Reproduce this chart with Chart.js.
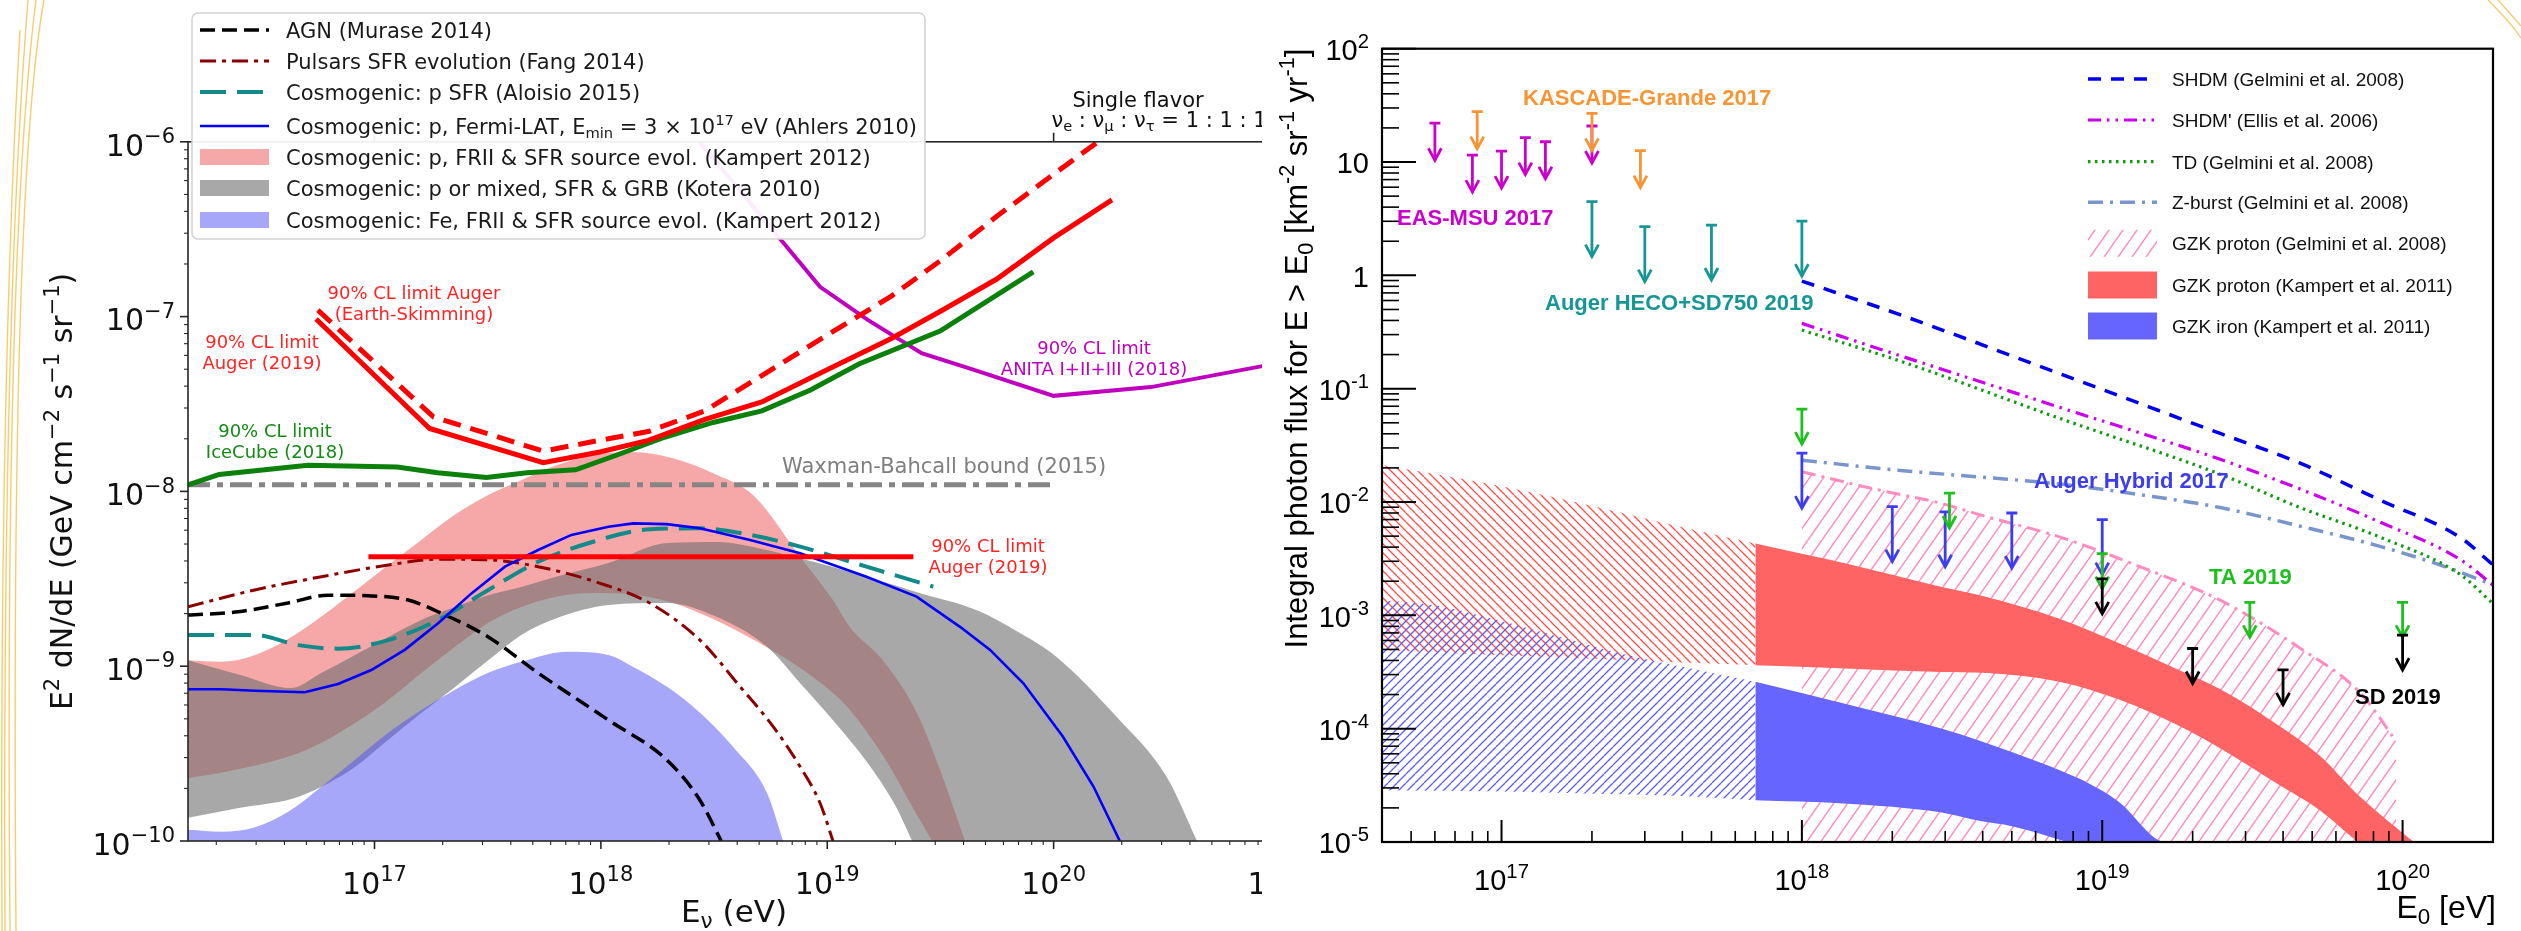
<!DOCTYPE html>
<html>
<head>
<meta charset="utf-8">
<title>Neutrino and photon flux limits</title>
<script src="https://cdn.jsdelivr.net/npm/chart.js@4.4.1/dist/chart.umd.min.js"></script>
<style>
  html, body { margin: 0; padding: 0; background: #fff; }
  body { width: 2521px; height: 931px; position: relative; overflow: hidden; }
  #leftBox { position: absolute; left: 0; top: 0; width: 1262px; height: 931px; overflow: hidden; }
  #rightBox { position: absolute; left: 1262px; top: 0; width: 1259px; height: 931px; }
  canvas { display: block; }
  #deco { position: absolute; left: 0; top: 0; pointer-events: none; }
</style>
</head>
<body>
<div id="leftBox"><canvas id="leftChart" width="1340" height="931"></canvas></div>
<div id="rightBox"><canvas id="rightChart" width="1259" height="931"></canvas></div>
<svg id="deco" width="2521" height="931">
  <g fill="none" stroke="#f5c456" stroke-width="1.4" opacity="0.85">
    <path d="M44 0 C 22 120, 12 420, 16 931"/>
    <path d="M36 0 C 16 160, 6 460, 10 931"/>
    <path d="M28 0 C 12 200, 3 500, 5 931"/>
    <path d="M20 30 C 8 240, 0 540, 2 931"/>
    <path d="M2488 0 C 2500 12, 2512 24, 2521 38"/>
    <path d="M2498 0 C 2507 10, 2514 18, 2521 26"/>
  </g>
</svg>
<script>
// ---------- left panel: neutrino fluxes ----------
const leftXRange = [1.5e16, 1e21];
const leftYRange = [1e-10, 1e-6];
const leftXTicks = [1e17, 1e18, 1e19, 1e20, 1e21];
const leftXTickLabels = ['10^{17}', '10^{18}', '10^{19}', '10^{20}', '10^{21}'];
const leftYTicks = [1e-10, 1e-9, 1e-8, 1e-7, 1e-6];
const leftYTickLabels = ['10^{\u221210}', '10^{\u22129}', '10^{\u22128}', '10^{\u22127}', '10^{\u22126}'];

const agnE = [1.5e16, 2.5e16, 4.15e16, 6.24e16, 9.37e16, 1.41e17, 1.97e17, 3.18e17, 5.28e17, 1.08e18, 1.96e18, 2.74e18, 3.4e18];
const agnFlux = [1.96e-9, 2.05e-9, 2.30e-9, 2.55e-9, 2.53e-9, 2.39e-9, 2.01e-9, 1.47e-9, 9.14e-10, 4.92e-10, 2.90e-10, 1.71e-10, 1.0e-10];

const pulsarE = [1.5e16, 2.96e16, 5.82e16, 1.15e17, 1.91e17, 3.18e17, 5.28e17, 9.93e17, 1.65e18, 2.74e18, 4.12e18, 5.77e18, 7.59e18, 9.29e18, 1.06e19];
const pulsarFlux = [2.19e-9, 2.73e-9, 3.25e-9, 3.79e-9, 4.09e-9, 4.06e-9, 3.71e-9, 2.98e-9, 2.29e-9, 1.41e-9, 7.64e-10, 4.51e-10, 2.66e-10, 1.65e-10, 1.0e-10];

const aloisioE = [1.5e16, 2.96e16, 4.6e16, 6.9e16, 1.15e17, 1.91e17, 3.18e17, 5.28e17, 8.79e17, 1.65e18, 2.74e18, 4.56e18, 7.59e18, 1.49e19, 2.94e19];
const aloisioFlux = [1.51e-9, 1.51e-9, 1.32e-9, 1.26e-9, 1.41e-9, 1.84e-9, 2.73e-9, 3.96e-9, 5.05e-9, 6.07e-9, 6.15e-9, 5.64e-9, 4.83e-9, 3.71e-9, 2.85e-9];

const ahlersE = [1.5e16, 2.11e16, 2.96e16, 4.92e16, 6.9e16, 9.68e16, 1.36e17, 1.91e17, 2.68e17, 3.77e17, 5.28e17, 7.41e17, 1.08e18, 1.39e18, 1.95e18, 2.74e18, 4.56e18, 7.59e18, 1.49e19, 2.48e19, 3.86e19, 5.24e19, 7.35e19, 1.1e20, 1.5e20, 1.96e20];
const ahlersFlux = [7.38e-10, 7.38e-10, 7.24e-10, 7.10e-10, 7.91e-10, 9.51e-10, 1.24e-9, 1.76e-9, 2.61e-9, 3.71e-9, 4.62e-9, 5.64e-9, 6.28e-9, 6.56e-9, 6.50e-9, 6.15e-9, 5.27e-9, 4.43e-9, 3.25e-9, 2.50e-9, 1.68e-9, 1.24e-9, 7.98e-10, 3.95e-10, 2.05e-10, 1.0e-10];

const augerE = [5.52e16, 1.75e17, 5.56e17, 9.89e17, 1.62e18, 2.88e18, 5.14e18, 9.93e18, 1.92e19, 3.15e19, 5.61e19, 1e20, 1.81e20];
const augerFlux = [9.68e-8, 2.29e-8, 1.46e-8, 1.68e-8, 1.96e-8, 2.58e-8, 3.25e-8, 4.95e-8, 7.5e-8, 1.07e-7, 1.64e-7, 2.82e-7, 4.65e-7];
const esE = [5.62e16, 1.82e17, 5.56e17, 9.89e17, 1.62e18, 2.88e18, 5.14e18, 9.93e18, 1.92e19, 3.15e19, 5.61e19, 1e20, 1.57e20];
const esFlux = [1.09e-7, 2.67e-8, 1.70e-8, 1.96e-8, 2.20e-8, 2.89e-8, 4.6e-8, 7.8e-8, 1.31e-7, 2.08e-7, 3.75e-7, 6.52e-7, 1e-6];
const augerFlatE = [9.4e16, 2.4e19];
const augerFlatFlux = [4.23e-9, 4.23e-9];

const iceE = [1.5e16, 2.06e16, 5.08e16, 1.26e17, 1.90e17, 3.12e17, 4.71e17, 7.73e17, 1.17e18, 1.91e18, 3.13e18, 5.14e18, 8.43e18, 1.38e19, 3.15e19, 8.13e19];
const iceFlux = [1.09e-8, 1.25e-8, 1.41e-8, 1.38e-8, 1.28e-8, 1.20e-8, 1.28e-8, 1.33e-8, 1.61e-8, 2.04e-8, 2.48e-8, 2.89e-8, 3.80e-8, 5.36e-8, 8.26e-8, 1.80e-7];

const anitaE = [2.72e18, 6.25e18, 9.29e18, 1.51e19, 2.61e19, 4.38e19, 1e20, 2.69e20, 8.24e20, 1.1e21];
const anitaFlux = [1e-6, 2.74e-7, 1.48e-7, 9.57e-8, 6.17e-8, 4.99e-8, 3.52e-8, 3.95e-8, 5.19e-8, 5.63e-8];

const wbE = [1.5e16, 1e20];
const wbFlux = [1.09e-8, 1.09e-8];

const kampE = [1.5e16, 2.1e16, 2.97e16, 4.15e16, 5.81e16, 8.2e16, 1.15e17, 1.61e17, 2.27e17, 3.18e17, 4.45e17, 6.28e17, 9.14e17, 1.37e18, 2.08e18, 3.13e18, 4.75e18, 7.59e18, 1.06e19, 1.26e19, 1.76e19, 2.49e19, 3.15e19, 4.06e19];
const kampUpper = [1.08e-9, 1.06e-9, 1.16e-9, 1.43e-9, 1.92e-9, 2.69e-9, 3.79e-9, 5.28e-9, 7.37e-9, 9.53e-9, 1.16e-8, 1.40e-8, 1.61e-8, 1.68e-8, 1.55e-8, 1.27e-8, 9.41e-9, 4.22e-9, 2.39e-9, 1.67e-9, 1.08e-9, 5.40e-10, 2.55e-10, 1.0e-10];
const kampLower = [2.29e-10, 2.46e-10, 2.70e-10, 3.03e-10, 3.64e-10, 4.73e-10, 6.41e-10, 9.14e-10, 1.29e-9, 1.77e-9, 2.18e-9, 2.49e-9, 2.62e-9, 2.57e-9, 2.30e-9, 1.86e-9, 1.41e-9, 9.77e-10, 7.03e-10, 5.62e-10, 3.09e-10, 1.41e-10, 8.36e-11, 4.79e-11];

const kotE = [1.5e16, 2.55e16, 4.29e16, 5.81e16, 8.2e16, 1.15e17, 1.61e17, 2.27e17, 3.18e17, 4.45e17, 6.28e17, 1.08e18, 1.96e18, 3.26e18, 5.42e18, 7.59e18, 1.06e19, 1.5e19, 1.99e19, 2.49e19, 4.58e19, 7.1e19, 1.03e20, 1.9e20, 3.16e20, 4.3e20];
const kotUpper = [1.08e-9, 8.91e-10, 7.50e-10, 9.14e-10, 1.16e-9, 1.47e-9, 1.84e-9, 2.18e-9, 2.55e-9, 2.84e-9, 3.24e-9, 3.89e-9, 5.07e-9, 5.14e-9, 4.62e-9, 4.13e-9, 3.70e-9, 3.24e-9, 2.90e-9, 2.65e-9, 2.09e-9, 1.55e-9, 1.13e-9, 5.12e-10, 2.32e-10, 1.0e-10];
const kotLower = [1.36e-10, 1.55e-10, 1.74e-10, 2.04e-10, 2.65e-10, 3.79e-10, 5.40e-10, 7.60e-10, 1.08e-9, 1.51e-9, 1.87e-9, 2.24e-9, 2.30e-9, 1.91e-9, 1.29e-9, 8.00e-10, 4.91e-10, 2.82e-10, 1.61e-10, 8.9e-11, 3.0e-11, 2.0e-11, 1.5e-11, 1.0e-11, 8e-12, 6e-12];

const feE = [1.5e16, 2.1e16, 2.97e16, 4.16e16, 5.81e16, 8.2e16, 1.15e17, 1.61e17, 2.27e17, 3.18e17, 4.45e17, 7.1e17, 1.08e18, 1.39e18, 1.96e18, 2.74e18, 3.84e18, 5.42e18, 6.38e18];
const feFlux = [1.16e-10, 1.13e-10, 1.20e-10, 1.47e-10, 2.04e-10, 2.92e-10, 4.16e-10, 5.62e-10, 7.33e-10, 9.16e-10, 1.06e-9, 1.21e-9, 1.16e-9, 9.91e-10, 7.62e-10, 5.41e-10, 3.45e-10, 1.88e-10, 1.0e-10];

const leftLegendKeys = ['agn', 'pulsar', 'aloisio', 'ahlers', 'kampert', 'kotera', 'fe'];
const leftLegendLabels = [
  'AGN (Murase 2014)',
  'Pulsars SFR evolution (Fang 2014)',
  'Cosmogenic: p SFR (Aloisio 2015)',
  'Cosmogenic: p, Fermi-LAT, E_{min} = 3 \u00d7 10^{17} eV (Ahlers 2010)',
  'Cosmogenic: p, FRII & SFR source evol. (Kampert 2012)',
  'Cosmogenic: p or mixed, SFR & GRB (Kotera 2010)',
  'Cosmogenic: Fe, FRII & SFR source evol. (Kampert 2012)'
];

// ---------- right panel: photon fluxes ----------
const rightXRange = [4e16, 2e20];
const rightYRange = [1e-5, 100];
const rightXTicks = [1e17, 1e18, 1e19, 1e20];
const rightXTickLabels = ['10^{17}', '10^{18}', '10^{19}', '10^{20}'];
const rightYTicks = [1e-5, 1e-4, 1e-3, 1e-2, 1e-1, 1, 10, 100];
const rightYTickLabels = ['10^{-5}', '10^{-4}', '10^{-3}', '10^{-2}', '10^{-1}', '1', '10', '10^{2}'];

const easMsuE = [6.0e16, 8.0e16, 1.0e17, 1.2e17, 1.4e17, 2.0e17];
const easMsuLim = [22, 11.5, 12.5, 16.4, 15.1, 20.8];
const kascadeE = [8.3e16, 2.0e17, 2.9e17];
const kascadeLim = [27.8, 26.9, 12.6];
const hecoE = [2.0e17, 3.0e17, 5.0e17, 1.0e18];
const hecoLim = [4.47, 2.69, 2.78, 3.01];
const hybridE = [1e18, 2e18, 3e18, 5e18, 1e19];
const hybridLim = [2.7e-2, 9.1e-3, 8.2e-3, 8.0e-3, 7.0e-3];
const taE = [1e18, 3.1e18, 1e19, 3.1e19, 1e20];
const taLim = [6.6e-2, 1.2e-2, 3.5e-3, 1.3e-3, 1.3e-3];
const sdE = [1e19, 2e19, 4e19, 1e20];
const sdLim = [2.1e-3, 5.1e-4, 3.3e-4, 6.7e-4];

const shdmE = [1e18, 2.13e18, 7.25e18, 2.47e19, 4.56e19, 8.41e19, 1.55e20, 2e20];
const shdmFlux = [0.891, 0.448, 0.135, 4.03e-2, 2.20e-2, 1.04e-2, 4.90e-3, 2.79e-3];
const shdm2Flux = [0.377, 0.195, 6.82e-2, 2.38e-2, 1.30e-2, 6.65e-3, 3.13e-3, 1.85e-3];
const tdFlux = [0.329, 0.175, 5.45e-2, 1.76e-2, 8.93e-3, 4.90e-3, 2.31e-3, 1.27e-3];
const zburstE = [1e18, 2.13e18, 3.93e18, 7.25e18, 1.34e19, 2.47e19, 4.56e19, 8.41e19, 1.33e20, 1.99e20];
const zburstFlux = [2.34e-2, 1.90e-2, 1.66e-2, 1.44e-2, 1.16e-2, 8.93e-3, 6.12e-3, 4.06e-3, 2.79e-3, 1.87e-3];

const gelE = [1e18, 1.82e18, 2.89e18, 3.93e18, 7.25e18, 1.34e19, 2.47e19, 4.56e19, 7.23e19, 9.51e19];
const gelFlux = [1.85e-2, 1.27e-2, 9.78e-3, 7.69e-3, 4.90e-3, 2.68e-3, 1.36e-3, 5.13e-4, 2.07e-4, 7.80e-5];

const kpE = [7e17, 1.4e18, 2.9e18, 4e18, 7.2e18, 1.15e19, 1.8e19, 2.5e19, 3.9e19, 5.3e19, 7.2e19, 1.11e20];
const kpUpper = [4.31e-3, 2.87e-3, 1.79e-3, 1.48e-3, 9.35e-4, 5.62e-4, 3.29e-4, 2.19e-4, 1.05e-4, 5.77e-5, 2.52e-5, 9.6e-6];
const kpLower = [3.63e-4, 3.40e-4, 3.17e-4, 3.12e-4, 2.60e-4, 1.79e-4, 1.06e-4, 6.59e-5, 3.17e-5, 1.91e-5, 9.75e-6, 4.59e-6];
const kfeE = [7e17, 1.38e18, 2.89e18, 3.93e18, 5e18, 7.25e18, 9e18, 1.15e19, 1.5e19, 1.6e19];
const kfeUpper = [2.59e-4, 1.67e-4, 1.01e-4, 7.80e-5, 6.21e-5, 4.27e-5, 3.30e-5, 2.20e-5, 1.08e-5, 1.0e-5];
const kfeLower = [2.34e-5, 2.19e-5, 1.83e-5, 1.53e-5, 1.38e-5, 1.04e-5, 8.47e-6, 5.64e-6, 3.76e-6, 3.06e-6];

const hatchE = [4e16, 6e16, 1e17, 1.5e17, 2.5e17, 4e17, 7e17];
const kpHatchUpper = [2.12e-2, 1.77e-2, 1.38e-2, 1.10e-2, 8.03e-3, 6.00e-3, 4.31e-3];
const kpHatchLower = [4.93e-4, 4.73e-4, 4.45e-4, 4.28e-4, 4.03e-4, 3.83e-4, 3.63e-4];
const kfeHatchUpper = [1.36e-3, 1.23e-3, 8.93e-4, 6.65e-4, 4.61e-4, 3.51e-4, 2.59e-4];
const kfeHatchLower = [2.86e-5, 2.84e-5, 2.79e-5, 2.72e-5, 2.64e-5, 2.54e-5, 2.34e-5];

const rightLegendKeys = ['shdm', 'shdm2', 'td', 'zburst', 'gel', 'kp', 'kfe'];
const rightLegendLabels = [
  'SHDM (Gelmini et al. 2008)',
  "SHDM' (Ellis et al. 2006)",
  'TD (Gelmini et al. 2008)',
  'Z-burst (Gelmini et al. 2008)',
  'GZK proton (Gelmini et al. 2008)',
  'GZK proton (Kampert et al. 2011)',
  'GZK iron (Kampert et al. 2011)'
];

// ---------- helpers ----------
const L_FONT = "'DejaVu Sans', sans-serif";
const R_FONT = "'Liberation Sans', Arial, sans-serif";

const pts = (xs, ys) => xs.map((x, i) => ({x, y: ys[i]}));
const smooth = {cubicInterpolationMode: 'monotone'};

function line(key, data, color, width, dash, extra) {
  return Object.assign({key, data, borderColor: color, borderWidth: width, borderDash: dash || [],
    pointRadius: 0, fill: false, tension: 0}, extra || {});
}
function area(key, data, bg, fill) {
  return {key, data, borderColor: 'rgba(0,0,0,0)', borderWidth: 1, backgroundColor: bg, fill,
    pointRadius: 0, cubicInterpolationMode: 'monotone'};
}
function edge(data) {
  return {data, borderColor: 'rgba(0,0,0,0)', borderWidth: 1, fill: false, pointRadius: 0,
    cubicInterpolationMode: 'monotone'};
}
function arrows(data, color, length) {
  return {data, showLine: false, pointRadius: 0, borderColor: color, arrow: {color, length}};
}

function hatch(color, w, h, lw, dir) {
  const c = document.createElement('canvas');
  c.width = w; c.height = h;
  const g = c.getContext('2d');
  g.strokeStyle = color; g.lineWidth = lw;
  g.beginPath();
  [-1, 0, 1].forEach(k => {
    if (dir === '/') { g.moveTo(k * w, h); g.lineTo(k * w + w, 0); }
    else { g.moveTo(k * w, 0); g.lineTo(k * w + w, h); }
  });
  g.stroke();
  return g.createPattern(c, 'repeat');
}

function parseRich(str) {
  const out = [];
  let buf = '', i = 0;
  while (i < str.length) {
    const c = str[i];
    if ((c === '^' || c === '_') && str[i + 1] === '{') {
      if (buf) { out.push({t: buf, m: 0}); buf = ''; }
      const j = str.indexOf('}', i + 2);
      out.push({t: str.slice(i + 2, j), m: c === '^' ? 1 : -1});
      i = j + 1;
    } else { buf += c; i++; }
  }
  if (buf) out.push({t: buf, m: 0});
  return out;
}

// y is the vertical middle of the main text
function drawRich(ctx, str, x, y, o) {
  const segs = parseRich(str);
  const size = o.size, small = size * 0.7;
  const font = s => (o.weight || 'normal') + ' ' + s + 'px ' + o.family;
  let total = 0;
  segs.forEach(s => { ctx.font = font(s.m ? small : size); s.w = ctx.measureText(s.t).width; total += s.w; });
  ctx.save();
  ctx.translate(x, y);
  if (o.rot) ctx.rotate(o.rot);
  ctx.fillStyle = o.color || '#000';
  ctx.textAlign = 'left';
  ctx.textBaseline = 'alphabetic';
  let cx = o.align === 'right' ? -total : o.align === 'center' ? -total / 2 : 0;
  const base = size * 0.36;
  segs.forEach(s => {
    ctx.font = font(s.m ? small : size);
    const dy = s.m > 0 ? -size * 0.42 : s.m < 0 ? size * 0.2 : 0;
    ctx.fillText(s.t, cx, base + dy);
    cx += s.w;
  });
  ctx.restore();
}

function logTickBuilder(majors) {
  return function (scale) {
    const list = [];
    const decades = [majors[0] / 10].concat(majors);
    decades.forEach((d, k) => {
      for (let m = 1; m <= 9; m++) {
        const v = m * d;
        if (v < scale.min * 0.999 || v > scale.max * 1.001) continue;
        list.push({value: v, major: m === 1 && k > 0});
      }
    });
    scale.ticks = list;
  };
}

function logAxis(range, majors, fitFn) {
  return {
    type: 'logarithmic', min: range[0], max: range[1], bounds: 'data',
    afterBuildTicks: logTickBuilder(majors), afterFit: fitFn,
    ticks: {display: false}, grid: {display: false}, border: {display: false}
  };
}

function findDs(chart, key) {
  return chart.data.datasets.find(d => d.key === key);
}

function drawHandle(ctx, ds, x0, x1, y, patchH) {
  ctx.save();
  if (ds.fill) {
    ctx.fillStyle = ds.backgroundColor;
    ctx.fillRect(x0, y - patchH / 2, x1 - x0, patchH);
  } else {
    ctx.strokeStyle = ds.borderColor;
    ctx.lineWidth = ds.borderWidth;
    ctx.setLineDash(ds.borderDash || []);
    ctx.beginPath(); ctx.moveTo(x0, y); ctx.lineTo(x1, y); ctx.stroke();
  }
  ctx.restore();
}

// ---------- left chart ----------
const leftDeco = {
  id: 'leftDeco',
  afterDatasetsDraw(chart) {
    const {ctx, chartArea: a} = chart;
    const xs = chart.scales.x, ys = chart.scales.y;
    ctx.save();
    ctx.strokeStyle = '#262626';
    xs.ticks.forEach(t => {
      const px = xs.getPixelForValue(t.value);
      ctx.lineWidth = t.major ? 1.6 : 1.1;
      ctx.beginPath();
      ctx.moveTo(px, a.bottom); ctx.lineTo(px, a.bottom + (t.major ? 8 : 4));
      if (t.major) { ctx.moveTo(px, a.top); ctx.lineTo(px, a.top - 9); }
      ctx.stroke();
    });
    ys.ticks.forEach(t => {
      const py = ys.getPixelForValue(t.value);
      ctx.lineWidth = t.major ? 1.6 : 1.1;
      ctx.beginPath();
      ctx.moveTo(a.left, py); ctx.lineTo(a.left - (t.major ? 8 : 4), py);
      ctx.stroke();
    });
    ctx.lineWidth = 1.6;
    ctx.strokeRect(a.left, a.top, a.right - a.left, a.bottom - a.top);
    ctx.restore();
  },
  afterDraw(chart) {
    const {ctx, chartArea: a} = chart;
    const xs = chart.scales.x, ys = chart.scales.y;
    leftXTicks.forEach((v, i) => drawRich(ctx, leftXTickLabels[i], xs.getPixelForValue(v), 883,
      {size: 30, family: L_FONT, align: 'center', color: '#111'}));
    leftYTicks.forEach((v, i) => drawRich(ctx, leftYTickLabels[i], a.left - 13, ys.getPixelForValue(v) + 3,
      {size: 30, family: L_FONT, align: 'right', color: '#111'}));
    drawRich(ctx, 'E_{\u03bd} (eV)', (a.left + a.right) / 2, 911, {size: 31, family: L_FONT, align: 'center', color: '#111'});
    drawRich(ctx, 'E^{2} dN/dE (GeV cm^{\u22122} s^{\u22121} sr^{\u22121})', 61, (a.top + a.bottom) / 2,
      {size: 30, family: L_FONT, align: 'center', rot: -Math.PI / 2, color: '#111'});

    const notes = [
      {lines: ['90% CL limit Auger', '(Earth-Skimming)'], x: 414, y: 293, color: '#ff2424'},
      {lines: ['90% CL limit', 'Auger (2019)'], x: 262, y: 342, color: '#ff2424'},
      {lines: ['90% CL limit', 'IceCube (2018)'], x: 275, y: 431, color: '#138a13'},
      {lines: ['90% CL limit', 'Auger (2019)'], x: 988, y: 546, color: '#ff2424'},
      {lines: ['90% CL limit', 'ANITA I+II+III (2018)'], x: 1094, y: 348, color: '#c000c0'}
    ];
    notes.forEach(n => n.lines.forEach((t, k) => drawRich(ctx, t, n.x, n.y + k * 20.5,
      {size: 18, family: L_FONT, align: 'center', color: n.color})));
    drawRich(ctx, 'Waxman-Bahcall bound (2015)', 782, 465, {size: 21, family: L_FONT, color: '#7f7f7f'});
    drawRich(ctx, 'Single flavor', 1138, 99, {size: 21, family: L_FONT, align: 'center', color: '#111'});
    drawRich(ctx, '\u03bd_{e} : \u03bd_{\u03bc} : \u03bd_{\u03c4} = 1 : 1 : 1', 1159, 119,
      {size: 21, family: L_FONT, align: 'center', color: '#111'});

    // legend
    ctx.save();
    ctx.fillStyle = 'rgba(255,255,255,0.93)';
    ctx.strokeStyle = '#d2d2d2';
    ctx.lineWidth = 1.5;
    ctx.beginPath();
    ctx.roundRect(192, 13, 733, 226, 6);
    ctx.fill(); ctx.stroke();
    ctx.restore();
    const rows = [30, 61, 92, 126, 157, 188, 220];
    leftLegendKeys.forEach((k, i) => {
      drawHandle(ctx, findDs(chart, k), 200, 269, rows[i], 16);
      drawRich(ctx, leftLegendLabels[i], 286, rows[i], {size: 21, family: L_FONT, color: '#1a1a1a'});
    });
  }
};

const leftDatasets = [
  line('augerFlat', pts(augerFlatE, augerFlatFlux), '#ff0000', 5),
  line('auger', pts(augerE, augerFlux), '#ff0000', 5),
  line('augerES', pts(esE, esFlux), '#ff0000', 5, [18, 10]),
  line('icecube', pts(iceE, iceFlux), '#0b800b', 5),
  line('anita', pts(anitaE, anitaFlux), '#bf00bf', 4),
  line('wb', pts(wbE, wbFlux), '#858585', 5, [22, 7, 6, 7]),
  line('ahlers', pts(ahlersE, ahlersFlux), '#0000ff', 2.6),
  line('aloisio', pts(aloisioE, aloisioFlux), '#138a8a', 4, [26, 11], smooth),
  line('pulsar', pts(pulsarE, pulsarFlux), '#8b0000', 3, [16, 6, 4, 6], smooth),
  line('agn', pts(agnE, agnFlux), '#000000', 3.5, [15, 7], smooth),
  area('fe', pts(feE, feFlux), 'rgba(80,80,245,0.5)', 'start'),
  area('kotera', pts(kotE, kotUpper), 'rgba(110,110,110,0.6)', '+1'),
  edge(pts(kotE, kotLower)),
  area('kampert', pts(kampE, kampUpper), 'rgba(235,60,60,0.45)', '+1'),
  edge(pts(kampE, kampLower))
];

new Chart(document.getElementById('leftChart'), {
  type: 'line',
  data: {datasets: leftDatasets},
  options: {
    responsive: false, animation: false, events: [],
    layout: {padding: {left: 0, right: 60, top: 141.8, bottom: 0}},
    plugins: {legend: {display: false}, tooltip: {enabled: false}},
    scales: {
      x: logAxis(leftXRange, leftXTicks, s => { s.height = 90; }),
      y: logAxis(leftYRange, leftYTicks, s => { s.width = 188; })
    }
  },
  plugins: [leftDeco]
});

// ---------- right chart ----------
const pinkHatch = hatch('#ff8cc0', 14, 20, 1.5, '/');
const redHatch = hatch('#ff4a4a', 9, 9, 1.3, '\\');
const blueHatch = hatch('#5a5aff', 9, 9, 1.3, '/');

const rightDeco = {
  id: 'rightDeco',
  afterDatasetsDraw(chart) {
    const {ctx, chartArea: a} = chart;
    const xs = chart.scales.x, ys = chart.scales.y;
    chart.data.datasets.forEach(ds => {
      if (!ds.arrow) return;
      const L = ds.arrow.length;
      ctx.save();
      ctx.strokeStyle = ds.arrow.color;
      ctx.lineWidth = 2.8;
      ds.data.forEach(p => {
        const px = xs.getPixelForValue(p.x), py = ys.getPixelForValue(p.y);
        ctx.beginPath();
        ctx.moveTo(px - 5.5, py); ctx.lineTo(px + 5.5, py);
        ctx.moveTo(px, py); ctx.lineTo(px, py + L);
        ctx.stroke();
        ctx.beginPath();
        ctx.moveTo(px - 6.5, py + L - 12); ctx.lineTo(px, py + L); ctx.lineTo(px + 6.5, py + L - 12);
        ctx.stroke();
      });
      ctx.restore();
    });
    ctx.save();
    ctx.strokeStyle = '#000';
    xs.ticks.forEach(t => {
      const px = xs.getPixelForValue(t.value);
      ctx.lineWidth = t.major ? 2 : 1.6;
      ctx.beginPath(); ctx.moveTo(px, a.bottom); ctx.lineTo(px, a.bottom - (t.major ? 22 : 11)); ctx.stroke();
    });
    ys.ticks.forEach(t => {
      const py = ys.getPixelForValue(t.value);
      ctx.lineWidth = t.major ? 2 : 1.6;
      ctx.beginPath(); ctx.moveTo(a.left, py); ctx.lineTo(a.left + (t.major ? 34 : 17), py); ctx.stroke();
    });
    ctx.lineWidth = 2.2;
    ctx.strokeRect(a.left, a.top, a.right - a.left, a.bottom - a.top);
    ctx.restore();
  },
  afterDraw(chart) {
    const {ctx, chartArea: a} = chart;
    const xs = chart.scales.x, ys = chart.scales.y;
    rightXTicks.forEach((v, i) => drawRich(ctx, rightXTickLabels[i], xs.getPixelForValue(v), 880,
      {size: 29, family: R_FONT, align: 'center'}));
    rightYTicks.forEach((v, i) => drawRich(ctx, rightYTickLabels[i], 107, ys.getPixelForValue(v) + 1,
      {size: 29, family: R_FONT, align: 'right'}));
    drawRich(ctx, 'E_{0} [eV]', a.right + 3, 906, {size: 32, family: R_FONT, align: 'right'});
    drawRich(ctx, 'Integral photon flux for E > E_{0} [km^{-2} sr^{-1} yr^{-1}]', 34, a.top,
      {size: 31, family: R_FONT, align: 'right', rot: -Math.PI / 2});

    const notes = [
      {t: 'KASCADE-Grande 2017', x: 261, y: 97, color: '#f79433'},
      {t: 'EAS-MSU 2017', x: 135, y: 217, color: '#cc00cc'},
      {t: 'Auger HECO+SD750 2019', x: 283, y: 302, color: '#179696'},
      {t: 'Auger Hybrid 2017', x: 772, y: 480, color: '#3c3cf0'},
      {t: 'TA 2019', x: 947, y: 576, color: '#1ec01e'},
      {t: 'SD 2019', x: 1093, y: 696, color: '#000000'}
    ];
    notes.forEach(n => drawRich(ctx, n.t, n.x, n.y, {size: 22, family: R_FONT, weight: 'bold', color: n.color}));

    const rows = [79, 120, 161.7, 202.3, 243.3, 285, 326];
    rightLegendKeys.forEach((k, i) => {
      drawHandle(ctx, findDs(chart, k), 826, 895, rows[i], 27);
      drawRich(ctx, rightLegendLabels[i], 910, rows[i], {size: 19, family: R_FONT, color: '#111'});
    });
  }
};

const rightDatasets = [
  arrows(pts(easMsuE, easMsuLim), '#cc00cc', 37),
  arrows(pts(kascadeE, kascadeLim), '#f79433', 37),
  arrows(pts(hecoE, hecoLim), '#179696', 55),
  arrows(pts(hybridE, hybridLim), '#3c3cf0', 55),
  arrows(pts(taE, taLim), '#1ec01e', 35),
  arrows(pts(sdE, sdLim), '#000000', 35),
  line('shdm', pts(shdmE, shdmFlux), '#0000ee', 3.5, [13, 10], smooth),
  line('shdm2', pts(shdmE, shdm2Flux), '#cc00ee', 3.2, [13, 6, 2.5, 6, 2.5, 6], smooth),
  line('td', pts(shdmE, tdFlux), '#129912', 3.2, [2.5, 4.5], smooth),
  line('zburst', pts(zburstE, zburstFlux), '#7896cc', 3.5, [15, 7, 3, 7], smooth),
  area('kfe', pts(kfeE, kfeUpper), '#6666ff', '+1'),
  edge(pts(kfeE, kfeLower)),
  area('kp', pts(kpE, kpUpper), '#ff6464', '+1'),
  edge(pts(kpE, kpLower)),
  Object.assign(area('gel', pts(gelE, gelFlux), pinkHatch, 'start'),
    {borderColor: '#ff8cc0', borderWidth: 3, borderDash: [14, 6, 3, 6]}),
  area('kfeH', pts(hatchE, kfeHatchUpper), blueHatch, '+1'),
  edge(pts(hatchE, kfeHatchLower)),
  area('kpH', pts(hatchE, kpHatchUpper), redHatch, '+1'),
  edge(pts(hatchE, kpHatchLower))
];

new Chart(document.getElementById('rightChart'), {
  type: 'line',
  data: {datasets: rightDatasets},
  options: {
    responsive: false, animation: false, events: [],
    layout: {padding: {left: 0, right: 28, top: 48.7, bottom: 0}},
    plugins: {legend: {display: false}, tooltip: {enabled: false}},
    scales: {
      x: logAxis(rightXRange, rightXTicks, s => { s.height = 89; }),
      y: logAxis(rightYRange, rightYTicks, s => { s.width = 120; })
    }
  },
  plugins: [rightDeco]
});
</script>
</body>
</html>
